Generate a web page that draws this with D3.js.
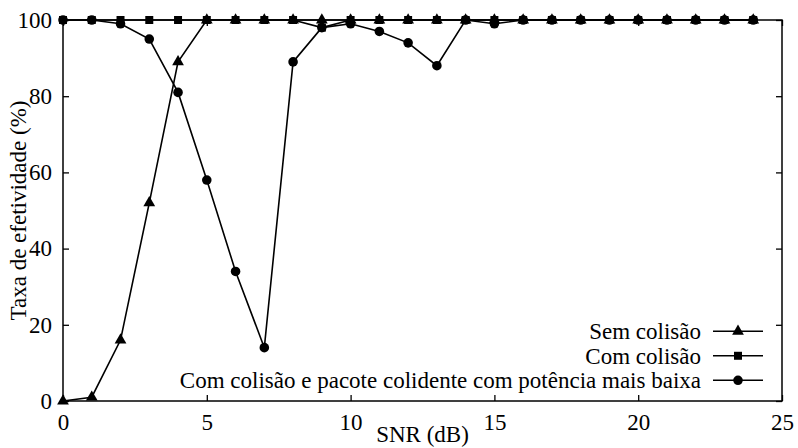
<!DOCTYPE html>
<html>
<head>
<meta charset="utf-8">
<script src="https://cdn.jsdelivr.net/npm/d3@7"></script>
</head>
<body style="margin:0">
<div class="chart"></div>
<script>
// SNR (dB)
const snr = d3.range(0, 25);
// taxa de efetividade (%)
const semColisao = [0, 1, 16, 52, 89, 100, 100, 100, 100, 100, 100, 100, 100, 100, 100, 100, 100, 100, 100, 100, 100, 100, 100, 100, 100];
const comColisao = [100, 100, 100, 100, 100, 100, 100, 100, 100, 98, 100, 100, 100, 100, 100, 100, 100, 100, 100, 100, 100, 100, 100, 100, 100];
const potenciaBaixa = [100, 100, 99, 95, 81, 58, 34, 14, 89, 98, 99, 97, 94, 88, 100, 99, 100, 100, 100, 100, 100, 100, 100, 100, 100];
const xTicks = [0, 5, 10, 15, 20, 25];
const yTicks = [0, 20, 40, 60, 80, 100];
const nomes = ['Sem colisão', 'Com colisão', 'Com colisão e pacote colidente com potência mais baixa'];

const series = [
  { name: nomes[0], values: semColisao, symbol: d3.symbolTriangle, size: 60 },
  { name: nomes[1], values: comColisao, symbol: d3.symbolSquare, size: 64 },
  { name: nomes[2], values: potenciaBaixa, symbol: d3.symbolCircle, size: 72 }
];

const W = 798, H = 448;
const m = { top: 20, right: 16, bottom: 47, left: 63 };
const iw = W - m.left - m.right;
const ih = H - m.top - m.bottom;
const fs = 23;

const svg = d3.select('.chart').append('svg')
  .attr('width', W)
  .attr('height', H);

const g = svg.append('g')
  .attr('transform', `translate(${m.left},${m.top})`);

const x = d3.scaleLinear().domain([0, 25]).range([0, iw]);
const y = d3.scaleLinear().domain([0, 100]).range([ih, 0]);

// fontes com métrica de Times
function serif(fam) {
  return sel => sel.style('font-family', () => `"${fam}"`)
    .attr('font-size', fs)
    .attr('fill', '#000');
}

function styleAxis(s) {
  s.attr('font-family', null).attr('font-size', null);
  s.select('.domain').remove();
  s.selectAll('line').attr('stroke-width', 1.3);
  s.selectAll('text').call(serif('Tinos'));
}

// eixos (ticks para dentro)
g.append('g')
  .attr('transform', `translate(0,${ih})`)
  .call(d3.axisBottom(x).tickValues(xTicks).tickSize(-6).tickPadding(13))
  .call(styleAxis);
g.append('g')
  .call(d3.axisLeft(y).tickValues(yTicks).tickSize(-6).tickPadding(11))
  .call(styleAxis);
g.append('g')
  .attr('transform', `translate(${iw},0)`)
  .call(d3.axisRight(y).tickValues(yTicks).tickSize(-6).tickFormat(''))
  .call(styleAxis);
g.append('g')
  .call(d3.axisTop(x).tickValues(xTicks).tickSize(-6).tickFormat(''))
  .call(styleAxis);

// moldura
g.append('rect')
  .attr('width', iw).attr('height', ih)
  .attr('fill', 'none').attr('stroke', '#000').attr('stroke-width', 1.5);

// linhas e marcadores
const line = d3.line()
  .x((d, i) => x(snr[i]))
  .y(d => y(d));

series.forEach(s => {
  const vals = s.values.slice(0, snr.length);
  g.append('path')
    .datum(vals)
    .attr('fill', 'none')
    .attr('stroke', '#000')
    .attr('stroke-width', 1.6)
    .attr('d', line);
  g.append('g').selectAll('path')
    .data(vals)
    .enter()
    .append('path')
    .attr('transform', (d, i) => `translate(${x(snr[i])},${y(d)})`)
    .attr('d', d3.symbol().type(s.symbol).size(s.size))
    .attr('fill', '#000');
});

// legenda
const leg = g.append('g').attr('transform', `translate(${iw - 19},${y(18.3)})`);
leg.selectAll('text')
  .data(series)
  .enter()
  .append('text')
  .attr('x', -62)
  .attr('y', (d, i) => i * 24.5)
  .attr('dy', '0.35em')
  .attr('text-anchor', 'end')
  .call(serif('Liberation Serif'))
  .text(d => d.name);
series.forEach((s, i) => {
  leg.append('line')
    .attr('x1', -50).attr('x2', 0)
    .attr('y1', i * 24.5).attr('y2', i * 24.5)
    .attr('stroke', '#000').attr('stroke-width', 1.6);
  leg.append('path')
    .attr('transform', `translate(-25,${i * 24.5})`)
    .attr('d', d3.symbol().type(s.symbol).size(s.size))
    .attr('fill', '#000');
});

// títulos dos eixos
svg.append('text')
  .attr('x', m.left + iw / 2)
  .attr('y', 442)
  .attr('text-anchor', 'middle')
  .call(serif('Times New Roman'))
  .text('SNR (dB)');
svg.append('text')
  .attr('transform', `translate(26,${m.top + ih / 2}) rotate(-90)`)
  .attr('text-anchor', 'middle')
  .call(serif('Times New Roman'))
  .text('Taxa de efetividade (%)');
</script>
</body>
</html>
